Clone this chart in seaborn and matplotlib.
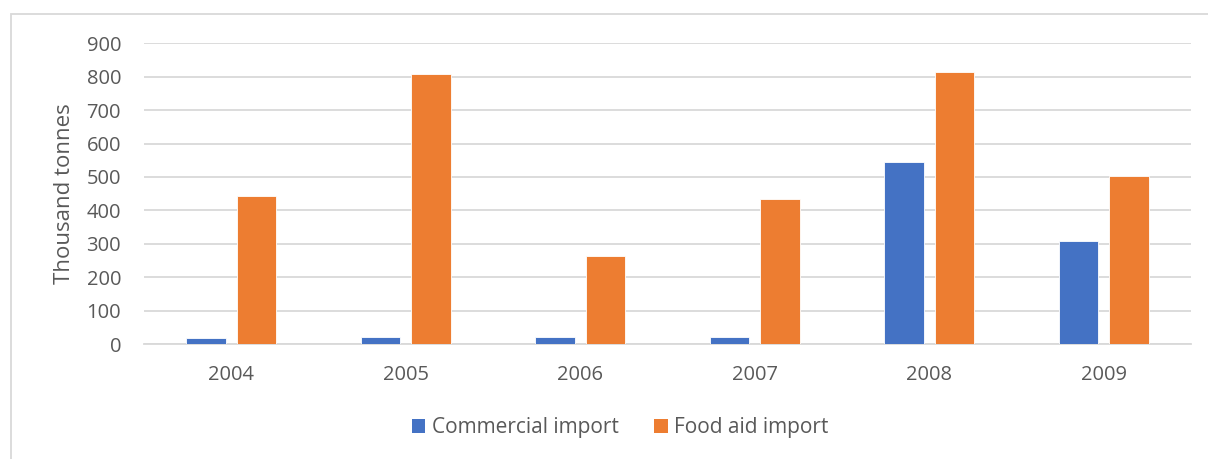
import matplotlib
matplotlib.use("Agg")
import matplotlib.pyplot as plt
from matplotlib.patches import Rectangle, Patch
import pandas as pd
import seaborn as sns

years = ["2004", "2005", "2006", "2007", "2008", "2009"]
commercial = [18, 20, 20, 20, 544, 307]
food_aid = [444, 808, 264, 433, 813, 503]
series_names = ["Commercial import", "Food aid import"]
y_ticks = [0, 100, 200, 300, 400, 500, 600, 700, 800, 900]

df = pd.DataFrame({
    "Year": years * 2,
    "Value": commercial + food_aid,
    "Series": [series_names[0]] * len(years) + [series_names[1]] * len(years),
})

sns.set_theme(style="white")
plt.rcParams["font.family"] = ["Open Sans", "DejaVu Sans"]

text_color = "#595959"
grid_color = "#D9D9D9"
colors = ["#4472C4", "#ED7D31"]

W, H = 1208, 459
fig = plt.figure(figsize=(W / 100, H / 100), dpi=100)
fig.patch.set_facecolor("white")

# chart border, running off the right and bottom edges
fig.add_artist(Rectangle((11 / W, -0.1), 1.2, (H - 14) / H + 0.1,
                         transform=fig.transFigure, fill=False,
                         edgecolor=grid_color, linewidth=1.3))

ax = fig.add_axes([144 / W, 115 / H, (1191 - 144) / W, (344 - 43.3) / H])
sns.barplot(data=df, x="Year", y="Value", hue="Series", palette=colors,
            saturation=1, width=0.578, gap=0.225, edgecolor="white",
            linewidth=0.6, ax=ax, legend=False, zorder=3)

ax.set_ylim(0, 900)
ax.set_yticks(y_ticks)
ax.set_xlim(-0.5, len(years) - 0.5)
ax.yaxis.grid(True, color=grid_color, linewidth=1.3, zorder=0)
ax.set_axisbelow(True)
for side in ["top", "right", "left"]:
    ax.spines[side].set_visible(False)
ax.spines["bottom"].set_color(grid_color)
ax.spines["bottom"].set_linewidth(1.3)
ax.tick_params(axis="both", length=0, labelsize=14.5, colors=text_color)
ax.tick_params(axis="y", pad=16.5)
ax.tick_params(axis="x", pad=15)
ax.set_xlabel("")
ax.set_ylabel("Thousand tonnes", fontsize=16, color=text_color, labelpad=8)

handles = [Patch(facecolor=c, edgecolor="none") for c in colors]
fig.legend(handles, series_names, loc="center", bbox_to_anchor=(620 / W, 1 - 428 / H),
           ncol=2, frameon=False, fontsize=15, labelcolor=text_color,
           handlelength=0.65, handleheight=0.65, handletextpad=0.3,
           columnspacing=1.7)

fig.savefig("out.png", dpi=100, facecolor="white")
